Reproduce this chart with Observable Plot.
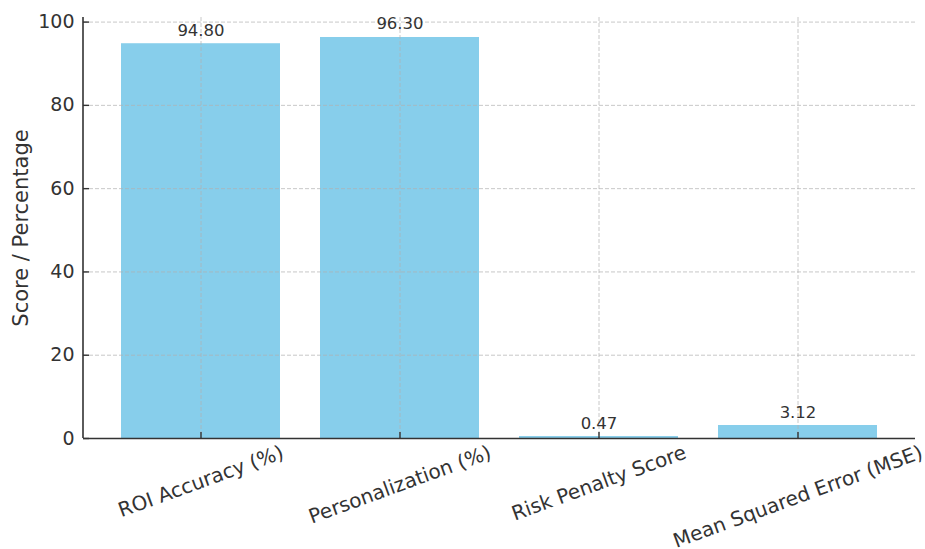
<!DOCTYPE html>
<html>
<head>
<meta charset="utf-8">
<script src="https://cdn.jsdelivr.net/npm/d3@7"></script>
<script src="https://cdn.jsdelivr.net/npm/@observablehq/plot@0.6"></script>
<style>
  body { margin: 0; background: #fff; }
  #chart svg { display: block; }
</style>
</head>
<body>
<div id="chart"></div>
<script>
// Evaluation metrics and their scores
const metrics = ["ROI Accuracy (%)", "Personalization (%)", "Risk Penalty Score", "Mean Squared Error (MSE)"];
const scores = [94.80, 96.30, 0.47, 3.12];
const yTicks = [0, 20, 40, 60, 80, 100];
const yLabel = "Score / Percentage";

const rows = metrics.map((metric, i) => ({metric, score: scores[i]}));

const font = "DejaVu Sans, sans-serif";
const ink = "#333333";
const gridStyle = {stroke: "#b0b0b0", strokeOpacity: 0.7, strokeDasharray: "4,2", strokeWidth: 1};

// left spine along the frame edge
function leftSpine(index, scales, values, dims) {
  const line = document.createElementNS("http://www.w3.org/2000/svg", "line");
  const x = dims.marginLeft;
  line.setAttribute("x1", x);
  line.setAttribute("x2", x);
  line.setAttribute("y1", dims.marginTop);
  line.setAttribute("y2", dims.height - dims.marginBottom);
  line.setAttribute("stroke", ink);
  line.setAttribute("stroke-width", 1.6);
  return line;
}

const chart = Plot.plot({
  width: 925,
  height: 549,
  marginLeft: 83,
  marginRight: 10,
  marginTop: 17,
  marginBottom: 111,
  style: {fontFamily: font, color: ink, background: "#fff", overflow: "visible"},
  x: {domain: metrics, paddingInner: 0.2, paddingOuter: 0.187, label: null},
  y: {domain: [0, 101.1], label: null},
  marks: [
    Plot.barY(rows, {x: "metric", y: "score", fill: "#87ceeb"}),
    Plot.gridX(metrics, gridStyle),
    Plot.gridY(yTicks, gridStyle),
    // value labels above the bars
    Plot.text(rows, {
      x: "metric", y: "score", text: d => d.score.toFixed(2),
      dy: -8, lineAnchor: "bottom", fontSize: 16.5, fill: ink
    }),
    // spines with inward ticks
    Plot.ruleY([0], {stroke: ink, strokeWidth: 1.6}),
    leftSpine,
    Plot.axisY(yTicks, {text: null, tickSize: -6, stroke: ink, strokeWidth: 1.4}),
    Plot.axisX({text: null, tickSize: -6, stroke: ink, strokeWidth: 1.4}),
    // y tick labels
    Plot.axisY(yTicks, {tickSize: 0, tickPadding: 9, fontSize: 19, fill: ink, tickFormat: d => String(d)}),
    // rotated category labels (moved below the axis after measuring)
    Plot.text(metrics, {
      x: d => d, frameAnchor: "bottom", text: d => d, rotate: -20,
      textAnchor: "middle", lineAnchor: "middle", fontSize: 20, fill: ink,
      ariaLabel: () => "metric-label"
    }),
    // y axis title
    Plot.text([yLabel], {
      frameAnchor: "left", dx: -62, rotate: -90, text: d => d,
      textAnchor: "middle", lineAnchor: "middle", fontSize: 21, fill: ink
    })
  ]
});

document.getElementById("chart").append(chart);

// Drop each rotated label so its bounding box sits just below the axis line
const y0 = chart.scale("y").apply(0);
const rad = 20 * Math.PI / 180;
const sin = Math.sin(rad), cos = Math.cos(rad);
let labels = Array.from(chart.querySelectorAll('text[aria-label="metric-label"]'));
if (!labels.length) labels = Array.from(chart.querySelectorAll('[aria-label="metric-label"] text'));
labels.forEach(t => {
  const b = t.getBBox();
  const h = b.width * sin + b.height * cos;
  const m = /translate\(\s*([-\d.e]+)[ ,]+([-\d.e]+)\s*\)/.exec(t.getAttribute("transform") || "");
  const tx = m ? +m[1] : 0;
  const cy = y0 + 2 + h / 2;
  t.setAttribute("transform", `translate(${tx},${cy}) rotate(-20)`);
});
</script>
</body>
</html>
